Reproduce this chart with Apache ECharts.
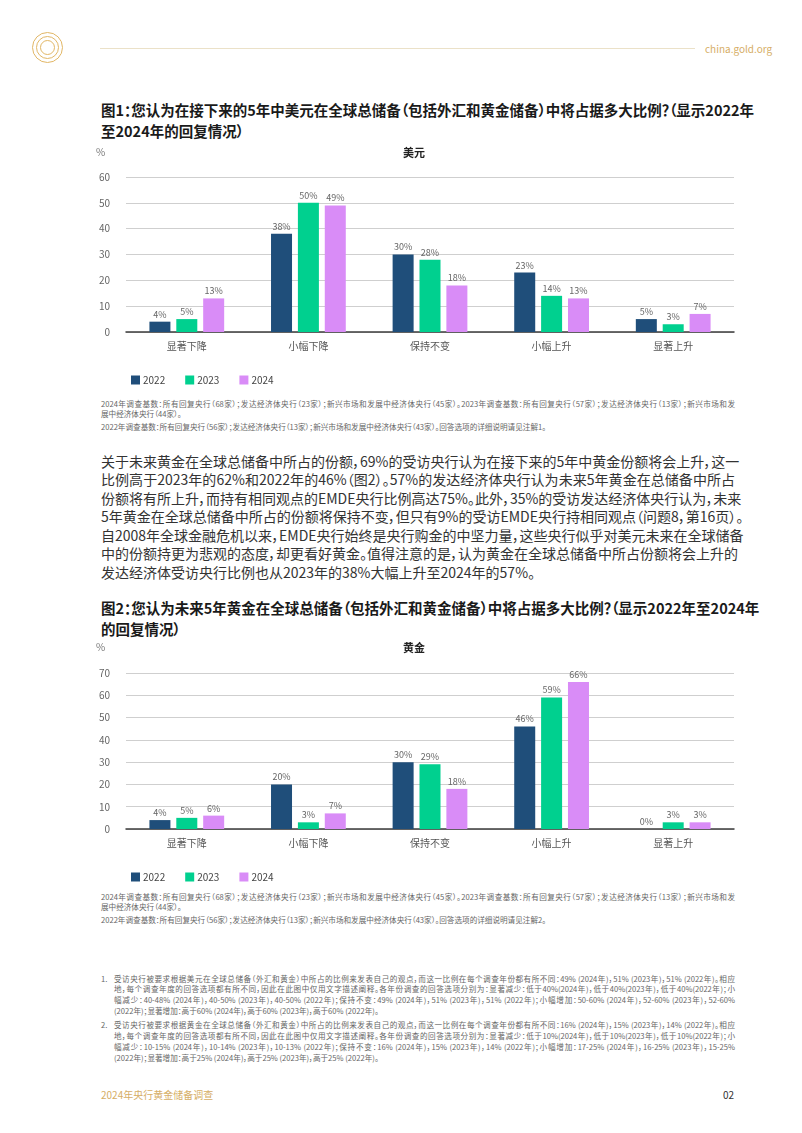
<!DOCTYPE html>
<html>
<head>
<meta charset="utf-8">
<script src="https://cdn.jsdelivr.net/npm/echarts@6/dist/echarts.min.js"></script>
<style>
html,body{margin:0;padding:0;background:#fff;}
body{width:802px;height:1133px;position:relative;overflow:hidden;font-family:"Noto Sans CJK SC","Noto Sans",sans-serif;font-feature-settings:"palt";}
.abs{position:absolute;}
.ln{display:block;white-space:nowrap;text-align:justify;text-align-last:justify;}
.last{text-align-last:left;}
#title1,#title2{left:101px;width:632px;font-size:14.5px;line-height:21px;font-weight:700;color:#1a1a1a;}
#para{left:101px;width:634px;font-size:14px;line-height:18.5px;color:#333;}
.fn{left:101px;width:634px;font-size:7.6px;line-height:10px;color:#666;}
.note{left:101px;width:634px;font-size:7.6px;line-height:10.9px;color:#666;}
.note .num{position:absolute;left:0;top:0;}
.note .body{position:absolute;left:13px;width:621px;}
.ring{position:absolute;border:1.6px solid #e2b766;border-radius:50%;}
</style>
</head>
<body>
<div class="ring" style="left:32px;top:32px;width:29px;height:29px;"></div>
<div class="ring" style="left:36px;top:36px;width:21px;height:21px;"></div>
<div class="ring" style="left:40px;top:40px;width:13px;height:13px;"></div>
<div class="abs" style="left:100px;top:48px;width:595px;height:1px;background:#ebe1c8;"></div>
<div class="abs" style="left:705px;top:42px;font-size:10px;line-height:14px;color:#d6ae66;">china.gold.org</div>

<div id="title1" class="abs" style="top:98.5px;">
<span class="ln">图1：您认为在接下来的5年中美元在全球总储备（包括外汇和黄金储备）中将占据多大比例？（显示2022年</span>
<span class="ln last">至2024年的回复情况）</span>
</div>

<div id="c1" class="abs" style="left:0;top:140px;width:802px;height:250px;"></div>

<div class="abs fn" style="top:399px;">
<span class="ln">2024年调查基数：所有回复央行（68家）；发达经济体央行（23家）；新兴市场和发展中经济体央行（45家）。2023年调查基数：所有回复央行（57家）；发达经济体央行（13家）；新兴市场和发</span>
<span class="ln last">展中经济体央行（44家）。</span>
</div>
<div class="abs fn" style="top:421.5px;">
<span class="ln last">2022年调查基数：所有回复央行（56家）；发达经济体央行（13家）；新兴市场和发展中经济体央行（43家）。回答选项的详细说明请见注解1。</span>
</div>

<div id="para" class="abs" style="top:451.5px;">
<span class="ln">关于未来黄金在全球总储备中所占的份额，69%的受访央行认为在接下来的5年中黄金份额将会上升，这一</span>
<span class="ln">比例高于2023年的62%和2022年的46%（图2）。57%的发达经济体央行认为未来5年黄金在总储备中所占</span>
<span class="ln">份额将有所上升，而持有相同观点的EMDE央行比例高达75%。此外，35%的受访发达经济体央行认为，未来</span>
<span class="ln">5年黄金在全球总储备中所占的份额将保持不变，但只有9%的受访EMDE央行持相同观点（问题8，第16页）。</span>
<span class="ln">自2008年全球金融危机以来，EMDE央行始终是央行购金的中坚力量，这些央行似乎对美元未来在全球储备</span>
<span class="ln">中的份额持更为悲观的态度，却更看好黄金。值得注意的是，认为黄金在全球总储备中所占份额将会上升的</span>
<span class="ln last">发达经济体受访央行比例也从2023年的38%大幅上升至2024年的57%。</span>
</div>

<div id="title2" class="abs" style="top:596.5px;">
<span class="ln">图2：您认为未来5年黄金在全球总储备（包括外汇和黄金储备）中将占据多大比例？（显示2022年至2024年</span>
<span class="ln last">的回复情况）</span>
</div>

<div id="c2" class="abs" style="left:0;top:635px;width:802px;height:250px;"></div>

<div class="abs fn" style="top:892px;">
<span class="ln">2024年调查基数：所有回复央行（68家）；发达经济体央行（23家）；新兴市场和发展中经济体央行（45家）。2023年调查基数：所有回复央行（57家）；发达经济体央行（13家）；新兴市场和发</span>
<span class="ln last">展中经济体央行（44家）。</span>
</div>
<div class="abs fn" style="top:914.5px;">
<span class="ln last">2022年调查基数：所有回复央行（56家）；发达经济体央行（13家）；新兴市场和发展中经济体央行（43家）。回答选项的详细说明请见注解2。</span>
</div>

<div class="abs note" style="top:973.5px;height:44px;">
<span class="num">1.</span>
<div class="body">
<span class="ln">受访央行被要求根据美元在全球总储备（外汇和黄金）中所占的比例来发表自己的观点，而这一比例在每个调查年份都有所不同：49% (2024年)，51% (2023年)，51% (2022年)。相应</span>
<span class="ln">地，每个调查年度的回答选项都有所不同，因此在此图中仅用文字描述阐释。各年份调查的回答选项分别为：显著减少：低于40%(2024年)，低于40%(2023年)，低于40%(2022年)；小</span>
<span class="ln">幅减少：40-48% (2024年)，40-50% (2023年)，40-50% (2022年)；保持不变：49% (2024年)，51% (2023年)，51% (2022年)；小幅增加：50-60% (2024年)，52-60% (2023年)，52-60%</span>
<span class="ln last">(2022年)；显著增加：高于60% (2024年)，高于60% (2023年)，高于60% (2022年)。</span>
</div>
</div>
<div class="abs note" style="top:1019.8px;height:44px;">
<span class="num">2.</span>
<div class="body">
<span class="ln">受访央行被要求根据黄金在全球总储备（外汇和黄金）中所占的比例来发表自己的观点，而这一比例在每个调查年份都有所不同：16% (2024年)，15% (2023年)，14% (2022年)。相应</span>
<span class="ln">地，每个调查年度的回答选项都有所不同，因此在此图中仅用文字描述阐释。各年份调查的回答选项分别为：显著减少：低于10%(2024年)，低于10%(2023年)，低于10%(2022年)；小</span>
<span class="ln">幅减少：10-15% (2024年)，10-14% (2023年)，10-13% (2022年)；保持不变：16% (2024年)，15% (2023年)，14% (2022年)；小幅增加：17-25% (2024年)，16-25% (2023年)，15-25%</span>
<span class="ln last">(2022年)；显著增加：高于25% (2024年)，高于25% (2023年)，高于25% (2022年)。</span>
</div>
</div>

<div class="abs" style="left:101px;top:1088px;font-size:10px;line-height:14px;color:#d6ae66;">2024年央行黄金储备调查</div>
<div class="abs" style="left:723px;top:1088px;font-size:10px;line-height:14px;color:#333;">02</div>

<script>
var categories = ['显著下降', '小幅下降', '保持不变', '小幅上升', '显著上升'];
var years = ['2022', '2023', '2024'];
var colors = ['#1f4e7a', '#00d08f', '#d98cf7'];

var usd2022 = [4, 38, 30, 23, 5];
var usd2023 = [5, 50, 28, 14, 3];
var usd2024 = [13, 49, 18, 13, 7];

var gold2022 = [4, 20, 30, 46, 0];
var gold2023 = [5, 3, 29, 59, 3];
var gold2024 = [6, 7, 18, 66, 3];

var usdTicks = {max: 60, interval: 10};
var goldTicks = {max: 70, interval: 10};

var FONT = '"Noto Sans CJK SC","Noto Sans",sans-serif';

function makeOption(title, seriesData, ticks, gridTop, gridH) {
  return {
    animation: false,
    textStyle: {fontFamily: FONT},
    color: colors,
    graphic: [
      {type: 'text', left: 96, top: 7, style: {text: '%', fontSize: 10, fill: '#777', fontFamily: FONT}},
      {type: 'text', x: 414, y: 13, style: {text: title, fontSize: 11, fontWeight: 'bold', fill: '#222', align: 'center', verticalAlign: 'middle', fontFamily: FONT}}
    ],
    legend: {
      left: 126, top: gridTop + gridH + 38,
      itemWidth: 9, itemHeight: 9, itemGap: 20,
      icon: 'rect',
      textStyle: {fontSize: 10, color: '#444', fontFamily: FONT, padding: [0, 0, 0, -2]},
      data: years
    },
    grid: {left: 126, width: 608, top: gridTop, height: gridH, containLabel: false},
    xAxis: {
      type: 'category', data: categories,
      axisTick: {show: false},
      axisLine: {lineStyle: {color: '#3c3c3c', width: 1.5}},
      axisLabel: {fontSize: 10, color: '#555', margin: 9, fontFamily: FONT}
    },
    yAxis: {
      type: 'value', min: 0, max: ticks.max, interval: ticks.interval,
      axisLine: {show: false}, axisTick: {show: false},
      axisLabel: {fontSize: 10, color: '#666', margin: 16, fontFamily: FONT},
      splitLine: {lineStyle: {color: '#cfcfcf', width: 1}}
    },
    series: seriesData.map(function (d, i) {
      return {
        name: years[i], type: 'bar', data: d,
        barWidth: 21, barGap: '28%',
        label: {show: true, position: 'top', distance: 3, fontSize: 9, color: '#666', formatter: '{c}%', fontFamily: FONT}
      };
    })
  };
}

var c1 = echarts.init(document.getElementById('c1'), null, {renderer: 'canvas'});
c1.setOption(makeOption('美元', [usd2022, usd2023, usd2024], usdTicks, 37, 155));
var c2 = echarts.init(document.getElementById('c2'), null, {renderer: 'canvas'});
c2.setOption(makeOption('黄金', [gold2022, gold2023, gold2024], goldTicks, 38, 156));
</script>
</body>
</html>
